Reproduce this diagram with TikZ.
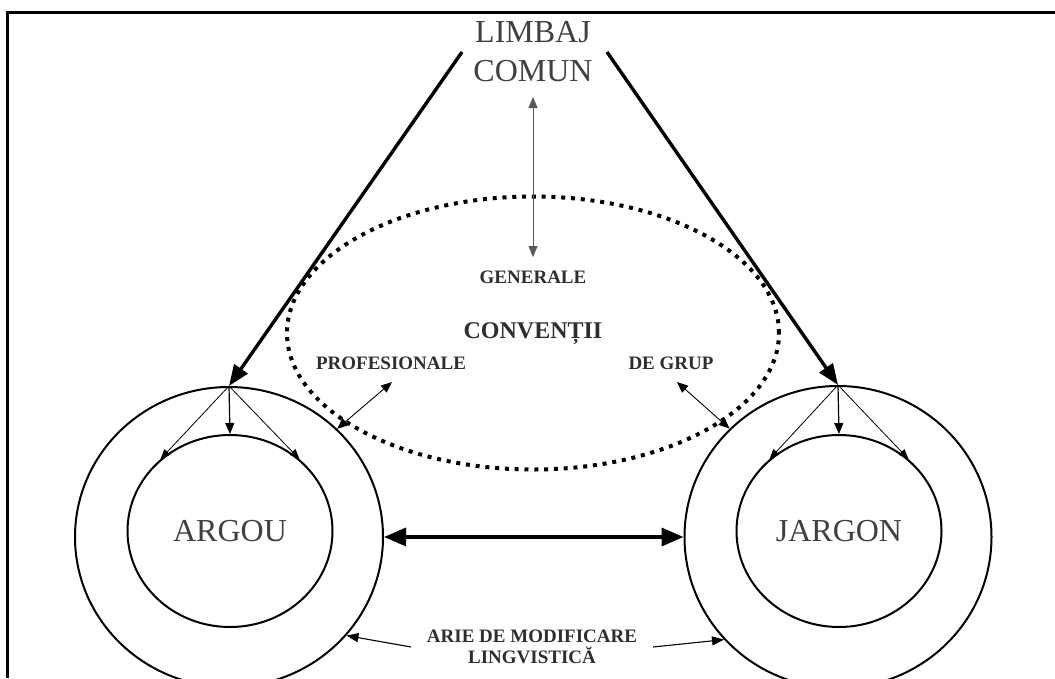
\documentclass[tikz,border=0pt]{standalone}
\usepackage{fontspec}
\setmainfont{Liberation Serif}
\usetikzlibrary{arrows.meta,shapes.geometric}

\begin{document}
\begin{tikzpicture}[x=1pt,y=-1pt,
  bigtext/.style={font=\fontsize{32}{39}\selectfont, text=black!75},
  smalltext/.style={font=\bfseries\fontsize{19}{21}\selectfont, text=black!82},
  midtext/.style={font=\bfseries\fontsize{24}{26}\selectfont, text=black!82},
  ring/.style={draw, ellipse, line width=2pt, inner sep=0pt},
  convzone/.style={draw, ellipse, line width=4pt, dash pattern=on 4pt off 5.8pt, inner sep=0pt},
  heavyarrow/.style={line width=3.4pt, -{Triangle[length=21pt,width=16pt]}},
  linkarrow/.style={line width=3.4pt, {Triangle[length=22pt,width=18pt]}-{Triangle[length=22pt,width=18pt]}},
  fanarrow/.style={line width=0.8pt, -{Triangle[length=10pt,width=8pt]}},
  fanmid/.style={line width=1.2pt, -{Triangle[length=11pt,width=9pt]}},
  twoway/.style={line width=0.9pt, {Triangle[length=11pt,width=9pt]}-{Triangle[length=11pt,width=9pt]}},
  pointer/.style={line width=1.1pt, -{Triangle[length=12pt,width=9pt]}}]

\useasboundingbox (0,0) rectangle (1055,678);

% frame: top rule and left rule
\coordinate (fTL) at (7,12);
\coordinate (fTR) at (1055,12);
\coordinate (fBL) at (7,678);
\draw[line width=3pt] (fTR) -- (fTL) -- (fBL);

% common language
\node[bigtext, align=center] (lc) at (533,52) {LIMBAJ\\COMUN};

% zone of conventions
\node[convzone, minimum width=492pt, minimum height=273pt] (conv) at (533,333) {};
\node[smalltext] (gen) at (533,277) {GENERALE};
\node[midtext] (cv) at (533,334) {CONVENȚII};
\node[smalltext] (prof) at (391,363) {PROFESIONALE};
\node[smalltext] (grup) at (671,363) {DE GRUP};

% argot and jargon rings
\node[ring, minimum width=308pt, minimum height=300pt] (argouOut) at (229,537) {};
\node[ring, bigtext, minimum width=205pt, minimum height=192pt] (argouIn) at (230,531) {ARGOU};
\node[ring, minimum width=307pt, minimum height=302pt] (jargonOut) at (838,537) {};
\node[ring, bigtext, minimum width=205pt, minimum height=192pt] (jargonIn) at (839,531) {JARGON};

% bottom label
\node[smalltext, align=center] (arie) at (532,647) {ARIE DE MODIFICARE\\LINGVISTICĂ};

% heavy arrows from the common language
\coordinate (lcL) at (462,52);
\coordinate (lcR) at (607,52);
\draw[heavyarrow] (lcL) -- (argouOut.north);
\draw[heavyarrow] (lcR) -- (jargonOut.north);

% link between argot and jargon
\draw[linkarrow] (argouOut.east) -- (jargonOut.west);

% general conventions
\coordinate (genTop) at (533,97);
\coordinate (genBot) at (533,257);
\draw[twoway, draw=black!65] (genTop) -- (genBot);

% professional and group conventions
\coordinate (profEnd) at (392,382);
\coordinate (grupEnd) at (677,382);
\draw[twoway] (argouOut.45) -- (profEnd);
\draw[twoway] (jargonOut.135) -- (grupEnd);

% fans into the inner rings
\draw[fanarrow] (argouOut.north) -- (argouIn.134);
\draw[fanmid] (argouOut.north) -- (argouIn.north);
\draw[fanarrow] (argouOut.north) -- (argouIn.46);
\draw[fanarrow] (jargonOut.north) -- (jargonIn.134);
\draw[fanmid] (jargonOut.north) -- (jargonIn.north);
\draw[fanarrow] (jargonOut.north) -- (jargonIn.46);

% pointers to the area of linguistic change
\coordinate (arieL) at (411,647);
\coordinate (arieR) at (653,647);
\draw[pointer] (arieL) -- (argouOut.-40);
\draw[pointer] (arieR) -- (jargonOut.-138);

\end{tikzpicture}
\end{document}
